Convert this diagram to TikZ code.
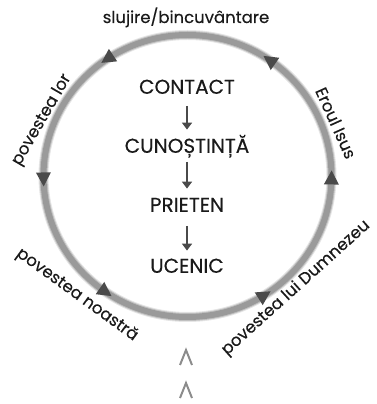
\documentclass[tikz,border=0pt]{standalone}
\usepackage{fontspec}
\setmainfont{Poppins}[FakeBold=0.3]
\usetikzlibrary{arrows.meta,calc}
\definecolor{ring}{HTML}{9A9A9A}
\definecolor{tipc}{HTML}{4A4A4A}
\definecolor{txt}{HTML}{1A1A1A}
\definecolor{chev}{HTML}{8C8C8C}
\tikzset{
  word/.style={font=\fontsize{20}{20}\selectfont, text=txt, inner sep=0pt, text height=14pt, text depth=0pt, anchor=south},
  lab/.style={font=\fontsize{16.5}{16.5}\selectfont, text=txt, inner sep=0pt},
  flow/.style={draw=tipc, line width=2.8pt, -{Triangle[width=10pt,length=7pt]}},
  ringline/.style={draw=ring},
  tri/.style={fill=tipc},
  chevron/.style={draw=chev, line width=2pt}
}
\begin{document}
\begin{tikzpicture}[x=1pt,y=1pt]
\useasboundingbox (0,0) rectangle (376,404);
\coordinate (c) at (187.5,228);
% ring with soft edge
\draw[ringline, opacity=0.25, line width=10pt] (c) ellipse [x radius=144, y radius=141];
\draw[ringline, opacity=0.5, line width=8pt] (c) ellipse [x radius=144, y radius=141];
\draw[ringline, line width=6pt] (c) ellipse [x radius=144, y radius=141];
% arrowheads (counterclockwise)
\foreach \a in {123.5,55,181,359,235,302}{
  \fill[tri, shift={($(c)+({144*cos(\a)},{141*sin(\a)})$)}, rotate=\a+90]
     (8,0) -- (-6,7.5) -- (-6,-7.5) -- cycle;
}
% central words
\node[word] (contact) at (187,310) {CONTACT};
\node[word] (cun) at (187,251) {CUNOȘTINȚĂ};
\node[word] (prieten) at (187,192) {PRIETEN};
\node[word] (ucenic) at (187,131) {UCENIC};
\draw[flow, shorten <=12pt, shorten >=9pt] (contact.south) -- (cun.north);
\draw[flow, shorten <=9pt, shorten >=9pt] (cun.south) -- (prieten.north);
\draw[flow, shorten <=14pt, shorten >=8pt] (prieten.south) -- (ucenic.north);
% labels
\node[lab, anchor=base] (top) at (186,381) {slujire/bincuvântare};
\node[lab, rotate=-65.8] (isus) at (336,281) {Eroul Isus};
\node[lab, rotate=60] (lor) at (42,284) {povestea lor};
\node[lab, rotate=-36] (noastra) at (77,109) {povestea noastră};
\node[lab, rotate=42] (dumnezeu) at (296,116) {povestea lui Dumnezeu};
% chevrons
\draw[chevron] (180,39) -- (186,54) -- (192,39);
\draw[chevron] (180,6) -- (186,21) -- (192,6);
\end{tikzpicture}
\end{document}
